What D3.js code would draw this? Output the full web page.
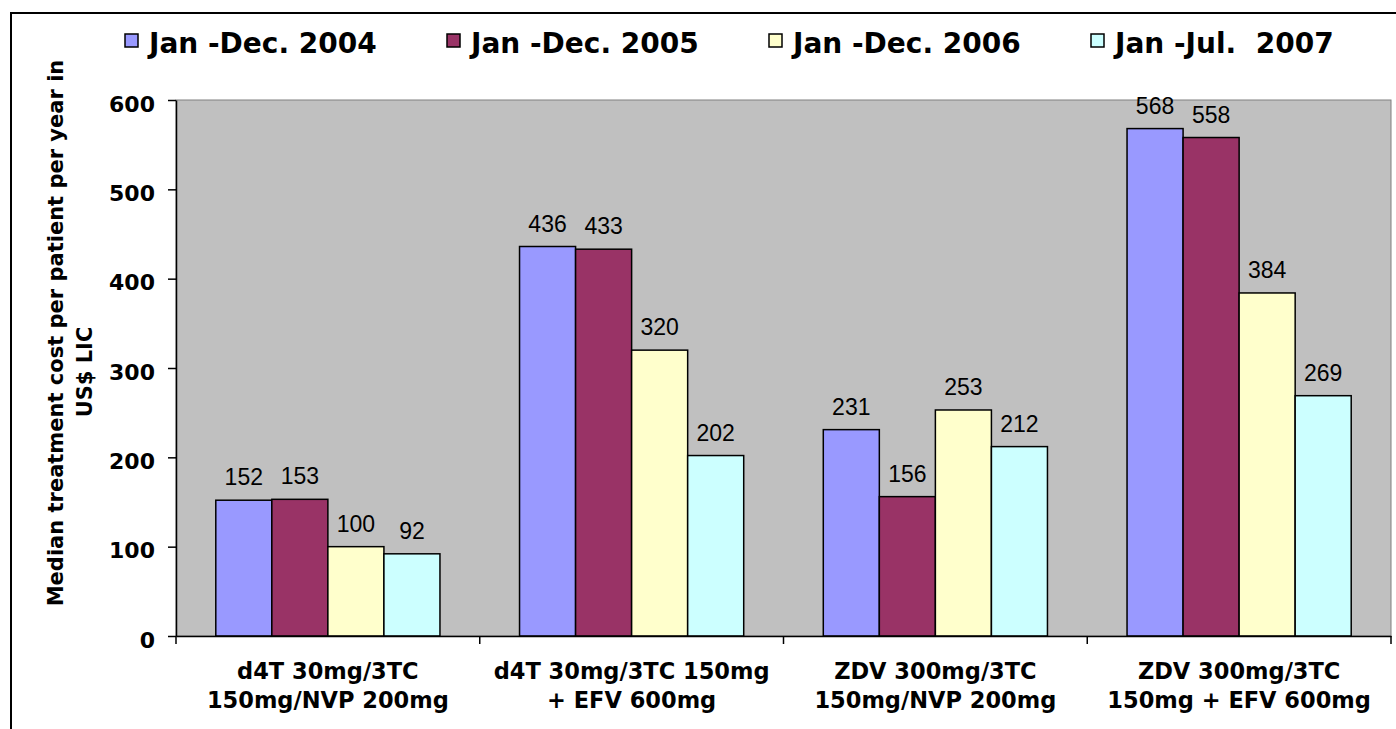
<!DOCTYPE html>
<html>
<head>
<meta charset="utf-8">
<script src="https://cdn.jsdelivr.net/npm/d3@7"></script>
<style>
  body { margin: 0; background: #fff; }
  svg { display: block; }
</style>
</head>
<body>
<div id="chart"></div>
<script>
// Data
var categories = [
  ["d4T 30mg/3TC", "150mg/NVP 200mg"],
  ["d4T 30mg/3TC 150mg", "+ EFV 600mg"],
  ["ZDV 300mg/3TC", "150mg/NVP 200mg"],
  ["ZDV 300mg/3TC", "150mg + EFV 600mg"]
];
var seriesNames = ["Jan -Dec. 2004", "Jan -Dec. 2005", "Jan -Dec. 2006", "Jan -Jul.  2007"];
var v2004 = [152, 436, 231, 568];
var v2005 = [153, 433, 156, 558];
var v2006 = [100, 320, 253, 384];
var v2007 = [92, 202, 212, 269];
var yTicks = [0, 100, 200, 300, 400, 500, 600];
var yTitle = ["Median treatment cost per patient per year in", "US$ LIC"];

var colors = ["#9999FF", "#993366", "#FFFFCC", "#CCFFFF"];
var series = [v2004, v2005, v2006, v2007];

// Layout
var width = 1396, height = 729;
var plot = { left: 176, top: 100, right: 1391, bottom: 636 };
var boldFont = "'DejaVu Sans', Verdana, sans-serif";

var svg = d3.select('#chart')
  .append('svg')
  .attr('width', width)
  .attr('height', height);

// outer chart border (runs off the right/bottom edge)
svg.append('rect')
  .attr('x', 11).attr('y', 13)
  .attr('width', 1500).attr('height', 800)
  .attr('fill', 'none')
  .attr('stroke', '#000')
  .attr('stroke-width', 2);

// Scales
var x0 = d3.scaleBand()
  .domain(d3.range(categories.length))
  .range([plot.left, plot.right])
  .paddingInner(0).paddingOuter(0);

var x1 = d3.scaleBand()
  .domain(d3.range(series.length))
  .range([0, x0.bandwidth()])
  .paddingInner(0).paddingOuter(0.71);

var y = d3.scaleLinear()
  .domain([0, 600])
  .range([plot.bottom, plot.top]);

// Plot area
svg.append('rect')
  .attr('x', plot.left).attr('y', plot.top)
  .attr('width', plot.right - plot.left)
  .attr('height', plot.bottom - plot.top)
  .attr('fill', '#C0C0C0')
  .attr('stroke', '#808080')
  .attr('stroke-width', 1);

// Bars
var groups = svg.selectAll('g.cat')
  .data(categories)
  .enter().append('g')
  .attr('class', 'cat')
  .attr('transform', (d, i) => 'translate(' + x0(i) + ',0)');

groups.selectAll('rect')
  .data((d, i) => series.map((s, j) => ({ s: j, v: s[i] })))
  .enter().append('rect')
  .attr('x', d => x1(d.s))
  .attr('y', d => y(d.v))
  .attr('width', x1.bandwidth())
  .attr('height', d => y(0) - y(d.v))
  .attr('fill', d => colors[d.s])
  .attr('stroke', '#000')
  .attr('stroke-width', 1.5);

groups.selectAll('text.val')
  .data((d, i) => series.map((s, j) => ({ s: j, v: s[i] })))
  .enter().append('text')
  .attr('class', 'val')
  .attr('x', d => x1(d.s) + x1.bandwidth() / 2)
  .attr('y', d => y(d.v) - 15)
  .attr('text-anchor', 'middle')
  .style('font-family', "'Liberation Sans', Arial, sans-serif")
  .style('font-size', '23px')
  .text(d => d.v);

// Y axis
var yAxis = d3.axisLeft(y).tickValues(yTicks).tickSize(8).tickSizeOuter(0).tickPadding(13);
var gy = svg.append('g')
  .attr('transform', 'translate(' + plot.left + ',0)')
  .call(yAxis);
gy.select('.domain').attr('stroke', '#000').attr('stroke-width', 1.5);
gy.selectAll('.tick line').attr('stroke', '#000').attr('stroke-width', 1.5);
gy.selectAll('.tick text')
  .attr('dy', '0.5em')
  .style('font-family', boldFont)
  .style('font-weight', 'bold')
  .style('font-size', '22px')
  .attr('fill', '#000');

// X axis (ticks at category boundaries)
var gx = svg.append('g')
  .attr('transform', 'translate(0,' + plot.bottom + ')')
  .call(d3.axisBottom(x0).tickSize(0).tickFormat(''));
gx.select('.domain').attr('stroke', '#000').attr('stroke-width', 1.5);
gx.selectAll('line.bound')
  .data(d3.range(categories.length + 1))
  .enter().append('line')
  .attr('class', 'bound')
  .attr('x1', i => plot.left + i * x0.step())
  .attr('x2', i => plot.left + i * x0.step())
  .attr('y1', 0).attr('y2', 8)
  .attr('stroke', '#000').attr('stroke-width', 1.5);

var labels = svg.selectAll('text.cat')
  .data(categories)
  .enter().append('text')
  .attr('class', 'cat')
  .attr('text-anchor', 'middle')
  .style('font-family', boldFont)
  .style('font-weight', 'bold')
  .style('font-size', '22.5px');
labels.selectAll('tspan')
  .data((d, i) => d.map(t => ({ t: t, i: i })))
  .enter().append('tspan')
  .attr('x', d => x0(d.i) + x0.bandwidth() / 2)
  .attr('y', (d, k) => plot.bottom + 43 + k * 29)
  .text(d => d.t);

// Y title
svg.append('text')
  .attr('transform', 'translate(63,333) rotate(-90)')
  .attr('text-anchor', 'middle')
  .style('font-family', boldFont)
  .style('font-weight', 'bold')
  .style('font-size', '21px')
  .text(yTitle[0]);
svg.append('text')
  .attr('transform', 'translate(92,372) rotate(-90)')
  .attr('text-anchor', 'middle')
  .style('font-family', boldFont)
  .style('font-weight', 'bold')
  .style('font-size', '21px')
  .text(yTitle[1]);

// Legend
var legend = svg.selectAll('g.leg')
  .data(seriesNames)
  .enter().append('g')
  .attr('class', 'leg')
  .attr('transform', (d, i) => 'translate(' + (125 + i * 322) + ',0)');
legend.append('rect')
  .attr('x', 0).attr('y', 34)
  .attr('width', 13).attr('height', 13)
  .attr('fill', (d, i) => colors[i])
  .attr('stroke', '#000').attr('stroke-width', 1.5);
legend.append('text')
  .attr('x', 24).attr('y', 53)
  .style('white-space', 'pre')
  .style('font-family', boldFont)
  .style('font-weight', 'bold')
  .style('font-size', '28px')
  .text(d => d);
</script>
</body>
</html>
